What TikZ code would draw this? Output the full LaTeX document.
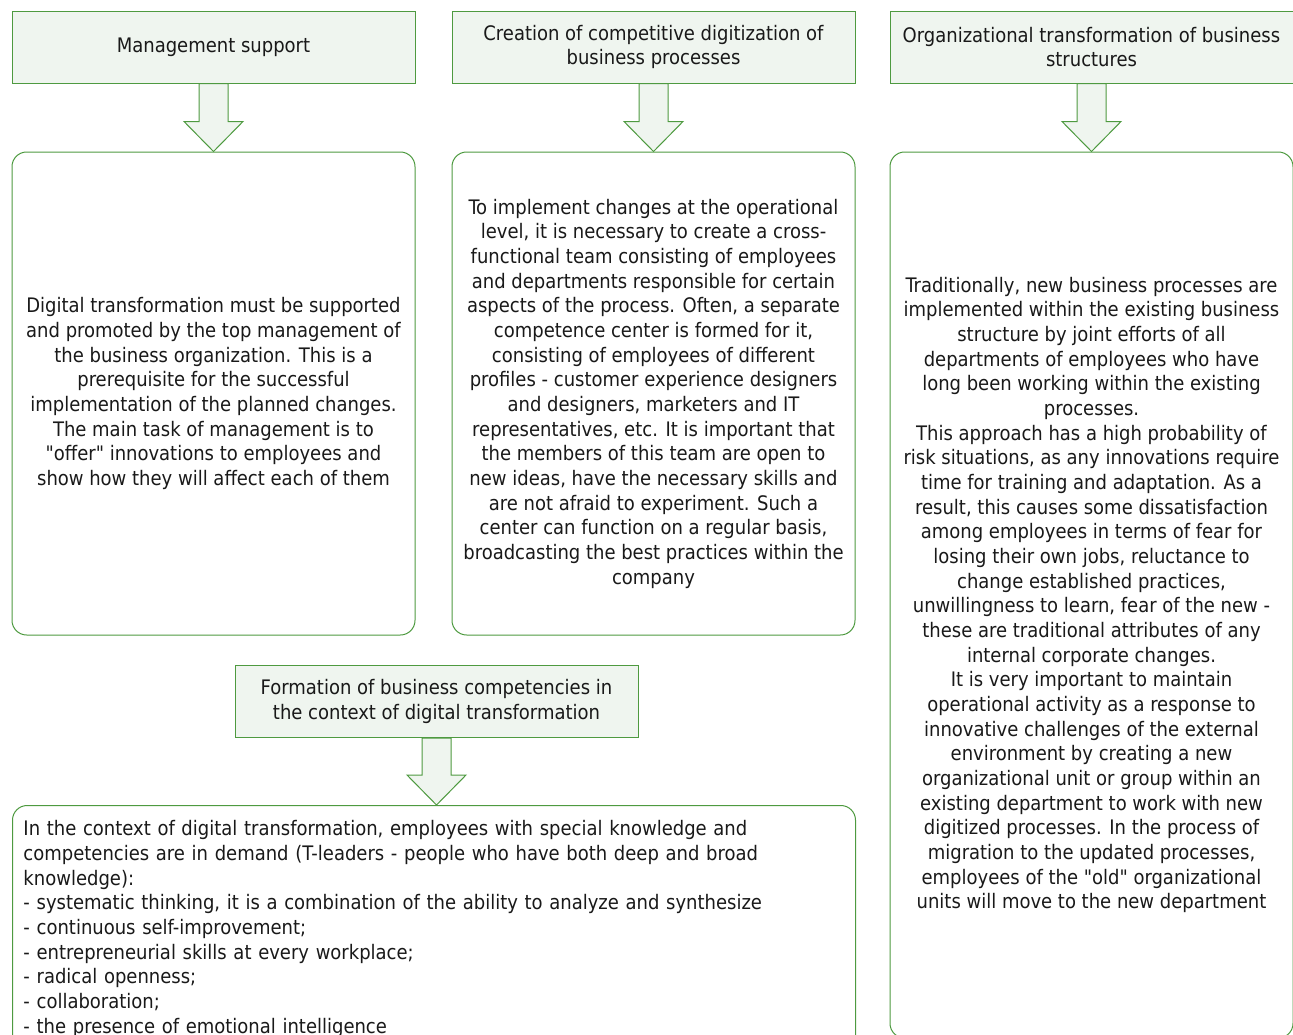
\documentclass[tikz,border=0pt]{standalone}
\usepackage{fontspec}
\setmainfont{DejaVu Sans Condensed}
\usepackage{xcolor}
\usetikzlibrary{calc, positioning}

\definecolor{boxline}{RGB}{78,154,64}
\definecolor{boxfill}{RGB}{239,245,239}

\newcommand{\flowarrow}[2]{%
  \filldraw[arrowbox] let \p1=(#1.south), \p2=(#2.north) in
    (\x1-10.875pt,\y1) -- (\x1+10.875pt,\y1) -- (\x1+10.875pt,\y2+22.5pt) -- (\x1+22.125pt,\y2+22.5pt)
    -- (\x1,\y2) -- (\x1-22.125pt,\y2+22.5pt) -- (\x1-10.875pt,\y2+22.5pt) -- cycle;}

\begin{document}
\begin{tikzpicture}[x=0.75pt, y=-0.75pt, line width=0.75pt,
    every node/.style={font=\fontsize{15}{18.5}\selectfont, text=black!90, align=center, inner sep=0pt},
    headbox/.style={draw=boxline, fill=boxfill, minimum width=302.25pt, minimum height=54pt},
    textbox/.style={draw=boxline, rounded corners=11pt, minimum width=302.25pt},
    arrowbox/.style={draw=boxline, fill=boxfill, line join=miter}]
    \useasboundingbox (0,0) rectangle (1293,1035);

    \node[headbox] (h1) at (213.5, 47) {Management support};
    \node[headbox] (h2) at (653.5, 47) {Creation of competitive digitization of\\business processes};
    \node[headbox] (h3) at (1091.5, 47) {Organizational transformation of business\\structures};
    \node[headbox] (h4) at (436.5, 701.5) {Formation of business competencies in\\the context of digital transformation};

    \node[textbox, minimum height=362.25pt] (b1) at (213.5, 393.5) {Digital transformation must be supported\\and promoted by the top management of\\the business organization. This is a\\prerequisite for the successful\\implementation of the planned changes.\\The main task of management is to\\\textquotedbl offer\textquotedbl{} innovations to employees and\\show how they will affect each of them};
    \node[textbox, minimum height=362.25pt] (b2) at (653.5, 393.5) {To implement changes at the operational\\level, it is necessary to create a cross-\\functional team consisting of employees\\and departments responsible for certain\\aspects of the process. Often, a separate\\competence center is formed for it,\\consisting of employees of different\\profiles - customer experience designers\\and designers, marketers and IT\\representatives, etc. It is important that\\the members of this team are open to\\new ideas, have the necessary skills and\\are not afraid to experiment. Such a\\center can function on a regular basis,\\broadcasting the best practices within the\\company};
    \node[textbox, minimum height=664.5pt] (b3) at (1091.5, 595) {Traditionally, new business processes are\\implemented within the existing business\\structure by joint efforts of all\\departments of employees who have\\long been working within the existing\\processes.\\This approach has a high probability of\\risk situations, as any innovations require\\time for training and adaptation. As a\\result, this causes some dissatisfaction\\among employees in terms of fear for\\losing their own jobs, reluctance to\\change established practices,\\unwillingness to learn, fear of the new -\\these are traditional attributes of any\\internal corporate changes.\\It is very important to maintain\\operational activity as a response to\\innovative challenges of the external\\environment by creating a new\\organizational unit or group within an\\existing department to work with new\\digitized processes. In the process of\\migration to the updated processes,\\employees of the \textquotedbl old\textquotedbl{} organizational\\units will move to the new department};
    \node[textbox, anchor=north west, inner xsep=8.25pt, inner ysep=11.25pt, text width=615.75pt, align=left] (b4) at (12, 805) {In the context of digital transformation, employees with special knowledge and\\competencies are in demand (T-leaders - people who have both deep and broad\\knowledge):\\- systematic thinking, it is a combination of the ability to analyze and synthesize\\- continuous self-improvement;\\- entrepreneurial skills at every workplace;\\- radical openness;\\- collaboration;\\- the presence of emotional intelligence};

    \flowarrow{h1}{b1}
    \flowarrow{h2}{b2}
    \flowarrow{h3}{b3}
    \flowarrow{h4}{b4}
\end{tikzpicture}
\end{document}
